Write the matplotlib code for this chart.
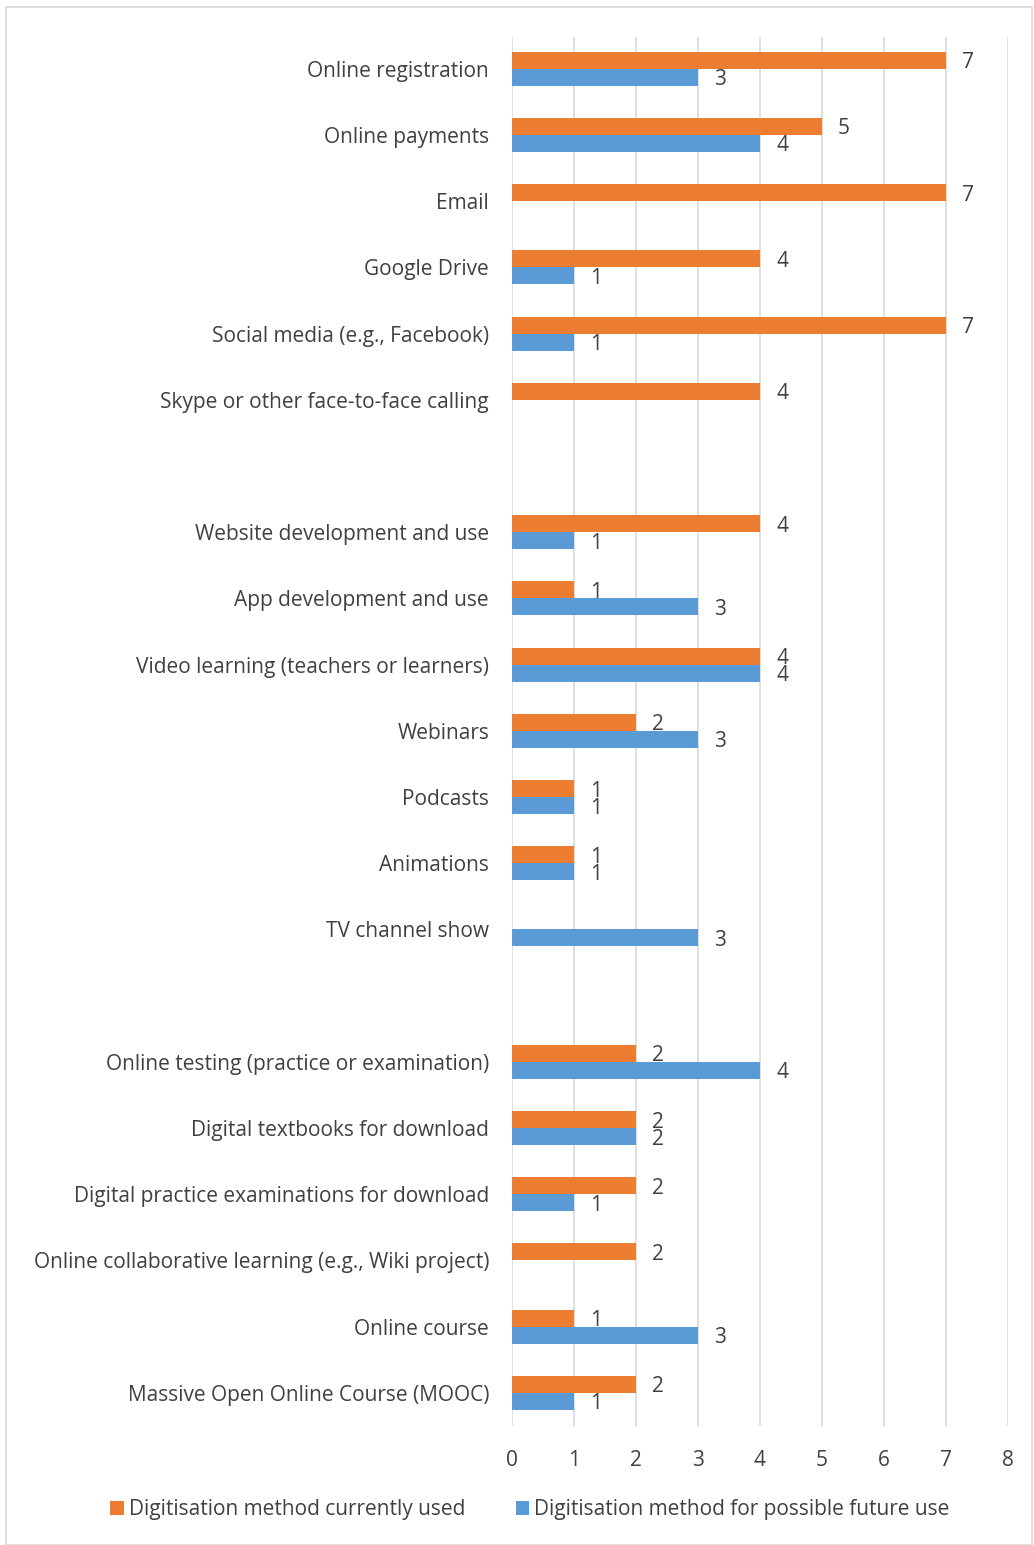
import numpy as np
import matplotlib
matplotlib.use("Agg")
import matplotlib.pyplot as plt
from matplotlib.patches import Rectangle

plt.rcParams['font.family'] = ['Open Sans', 'DejaVu Sans']

categories = [
    "Online registration",
    "Online payments",
    "Email",
    "Google Drive",
    "Social media (e.g., Facebook)",
    "Skype or other face-to-face calling",
    "",
    "Website development and use",
    "App development and use",
    "Video learning (teachers or learners)",
    "Webinars",
    "Podcasts",
    "Animations",
    "TV channel show",
    "",
    "Online testing (practice or examination)",
    "Digital textbooks for download",
    "Digital practice examinations for download",
    "Online collaborative learning (e.g., Wiki project)",
    "Online course",
    "Massive Open Online Course (MOOC)",
]
# 0 = no bar
current_use = [7, 5, 7, 4, 7, 4, 0, 4, 1, 4, 2, 1, 1, 0, 0, 2, 2, 2, 2, 1, 2]
future_use  = [3, 4, 0, 1, 1, 0, 0, 1, 3, 4, 3, 1, 1, 3, 0, 4, 2, 1, 0, 3, 1]

series_names = ["Digitisation method currently used",
                "Digitisation method for possible future use"]
orange = "#ED7D31"
blue = "#5B9BD5"
txt = "#404040"
fs = 15

W, H = 1034, 1545
fig = plt.figure(figsize=(W / 100, H / 100), dpi=100)
# light grey frame round the whole chart
fig.patches.append(Rectangle((6 / W, 0), (W - 8) / W, 1 - 7 / H, transform=fig.transFigure,
                             fill=False, edgecolor="#D9D9D9", linewidth=1.2))

ax = fig.add_axes([512 / W, 1 - 1426 / H, 496 / W, (1426 - 37) / H])

y = np.arange(len(categories))
h = 0.257
cur = np.array(current_use, dtype=float)
fut = np.array(future_use, dtype=float)
cur_m = np.where(cur > 0, cur, np.nan)
fut_m = np.where(fut > 0, fut, np.nan)

b1 = ax.barh(y - h / 2, cur_m, height=h, color=orange, label=series_names[0], zorder=3)
b2 = ax.barh(y + h / 2, fut_m, height=h, color=blue, label=series_names[1], zorder=3)

# value labels, a bit right of each bar end
for yi, v in zip(y, current_use):
    if v > 0:
        ax.text(v + 0.355, yi - h / 2, str(v), ha="center", va="center_baseline",
                fontsize=fs, color=txt)
for yi, v in zip(y, future_use):
    if v > 0:
        ax.text(v + 0.355, yi + h / 2, str(v), ha="center", va="center_baseline",
                fontsize=fs, color=txt)

ax.set_xlim(0, 8)
ax.set_ylim(len(categories) - 0.5, -0.48)
ax.set_xticks(range(0, 9))
ax.set_yticks(y)
ax.set_yticklabels(categories)
ax.tick_params(axis="y", length=0, pad=16.5, labelsize=fs, labelcolor=txt)
ax.tick_params(axis="x", length=0, pad=17, labelsize=fs, labelcolor=txt)
ax.grid(axis="x", color="#D9D9D9", linewidth=1.2, zorder=0)
for s in ax.spines.values():
    s.set_visible(False)

fig.legend(handles=[b1, b2], loc="center", bbox_to_anchor=(530 / W, 1 - 1510 / H),
           ncol=2, frameon=False, fontsize=fs, labelcolor=txt,
           handlelength=0.65, handleheight=0.65, handletextpad=0.25, columnspacing=2.4)

fig.savefig("out.png", dpi=100, facecolor="white")
